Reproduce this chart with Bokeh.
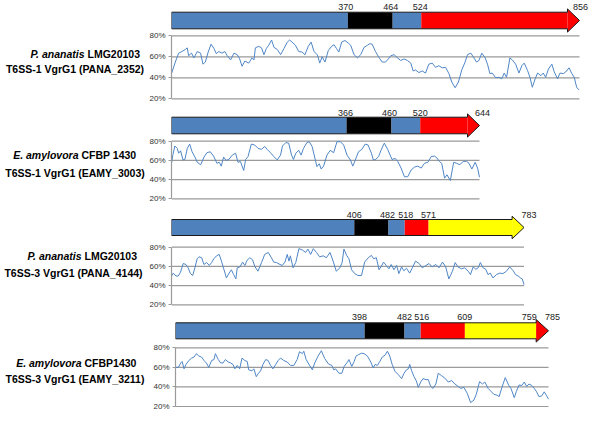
from bokeh.plotting import figure
from bokeh.layouts import column, row
from bokeh.models import Range1d, FixedTicker, PrintfTickFormatter
from bokeh.core.properties import value
from bokeh.embed import file_html
from bokeh.resources import INLINE

# ---------------- data ----------------
TICKS = [20, 40, 60, 80]

P1_SPECIES, P1_STRAIN, P1_GENE = "P. ananatis", "LMG20103", "T6SS-1 VgrG1 (PANA_2352)"
P1_LEN = 856
P1_BOUNDS = [0, 370, 464, 524, 856]
P1_DOMAINS = ["blue", "black", "blue", "red"]
P1_POS = [0, 8, 15, 22, 29, 33, 36, 42, 47, 54, 61, 66, 71, 77, 83, 89, 94, 99, 106, 112,
          117, 124, 131, 138, 143, 148, 154, 162, 169, 173, 176, 183, 189, 194, 199, 204, 210, 215, 222, 229,
          236, 243, 248, 253, 260, 267, 274, 280, 287, 293, 299, 306, 311, 316, 322, 329, 336, 341, 346, 351,
          357, 364, 371, 376, 383, 390, 397, 404, 411, 416, 421, 428, 435, 442, 449, 455, 460, 467, 474, 481,
          488, 495, 502, 507, 512, 519, 526, 533, 540, 547, 554, 561, 568, 575, 582, 588, 595, 602, 609, 616,
          621, 628, 633, 640, 645, 651, 658, 663, 668, 673, 680, 687, 693, 698, 703, 710, 715, 722, 729, 735,
          740, 747, 752, 757, 763, 768, 775, 780, 785, 791, 798, 803, 810, 815, 822, 827, 834, 840, 845, 850, 855]
P1_VAL = [44, 55, 63.5, 65, 67, 68.5, 61, 63.5, 59, 65, 63.5, 53, 55, 64.5, 72, 68, 63, 65, 63.5, 65,
          61, 57, 63.5, 62, 58, 51, 56, 54, 59, 57, 68.5, 70, 68.5, 62, 68, 71, 76, 69, 67, 62,
          68, 74, 76, 74, 71, 65, 64.5, 62, 70, 74, 65, 62, 54, 60, 55, 66, 70, 71.5, 68, 64.5,
          74, 75.5, 73, 71, 62, 59, 62, 69, 71, 72.5, 72, 65, 59.5, 55, 55, 58, 61, 62, 59, 56.5,
          58, 56.5, 54, 46.5, 47.5, 45, 46.5, 44.5, 53, 54, 50, 51.5, 49.5, 50, 44, 36, 30.5, 36, 47.5, 55,
          62, 63.5, 60, 55, 56.5, 63.5, 59, 53, 44, 44.5, 40, 40.5, 39, 44.5, 40.5, 59, 57, 53, 44.5, 51.5,
          54, 47, 40.5, 31, 39, 44.5, 42, 44.5, 40.5, 48.5, 53, 45.5, 39, 44.5, 44, 45.5, 49.5, 44, 40.5, 31, 28.5]

P2_SPECIES, P2_STRAIN, P2_GENE = "E. amylovora", "CFBP 1430", "T6SS-1 VgrG1 (EAMY_3003)"
P2_LEN = 644
P2_BOUNDS = [0, 366, 460, 520, 644]
P2_DOMAINS = ["blue", "black", "blue", "red"]
P2_POS = [0, 3, 7, 12, 15, 19, 24, 28, 33, 38, 43, 49, 54, 61, 68, 74, 81, 88, 95, 100,
          104, 109, 114, 120, 127, 134, 139, 144, 151, 155, 160, 167, 174, 181, 188, 195, 200, 207, 214, 221,
          228, 232, 239, 245, 251, 255, 260, 266, 271, 276, 283, 288, 294, 301, 304, 309, 313, 318, 325, 332,
          339, 346, 353, 360, 367, 374, 379, 384, 391, 398, 405, 411, 418, 422, 427, 433, 438, 445, 452, 461,
          468, 473, 480, 487, 494, 501, 508, 515, 522, 529, 536, 543, 550, 555, 560, 565, 571, 576, 583, 590,
          596, 603, 610, 617, 622, 628, 635, 640, 644]
P2_VAL = [57, 66, 75, 72.5, 67.5, 70, 60.5, 61, 72.5, 77, 69, 63.5, 58, 55.5, 63.5, 68, 69, 64.5, 57, 58,
          54, 63.5, 60, 61, 65.5, 67.5, 58, 59, 49.5, 61, 64, 77, 76, 72.5, 71.5, 74.5, 71.5, 68, 64, 60.5,
          65.5, 75, 78.5, 78, 65.5, 61, 67.5, 70.5, 65.5, 72.5, 78.5, 79.5, 74.5, 60, 53.5, 56.5, 51, 54, 65.5, 70.5,
          68, 79.5, 79.5, 76, 65.5, 60.5, 54, 60, 69, 71.5, 77, 76, 67.5, 60.5, 61, 64, 70.5, 78, 71.5, 61,
          62, 59, 52, 43, 43, 50, 53, 54, 52, 57, 58, 64, 64.5, 62.5, 59, 57, 41.5, 45, 39, 58,
          57, 55.5, 59, 59, 57, 51, 58, 52, 42.5]

P3_SPECIES, P3_STRAIN, P3_GENE = "P. ananatis", "LMG20103", "T6SS-3 VgrG1 (PANA_4144)"
P3_LEN = 783
P3_BOUNDS = [0, 406, 482, 518, 571, 783]
P3_DOMAINS = ["blue", "black", "blue", "red", "yellow"]
P3_POS = [0, 4, 10, 15, 20, 26, 32, 37, 42, 47, 52, 57, 61, 67, 72, 78, 84, 89, 94, 100,
          106, 111, 116, 122, 128, 133, 138, 143, 146, 152, 158, 163, 168, 174, 180, 185, 192, 200, 207, 215,
          222, 227, 233, 241, 246, 252, 257, 261, 264, 270, 276, 283, 291, 298, 303, 309, 315, 322, 329, 337,
          344, 352, 359, 366, 374, 379, 383, 389, 394, 400, 407, 414, 422, 429, 437, 444, 449, 455, 461, 466,
          471, 477, 483, 488, 494, 500, 505, 511, 516, 522, 529, 535, 542, 550, 557, 565, 572, 579, 587, 594,
          602, 609, 616, 624, 630, 636, 644, 651, 659, 664, 670, 676, 681, 686, 692, 698, 703, 708, 714, 722,
          729, 736, 744, 751, 759, 764, 770, 775, 779, 783]
P3_VAL = [50, 53, 50, 50, 54, 63, 62, 58.5, 52.5, 50.5, 58.5, 68, 70, 69, 62, 64, 61, 64, 68, 71,
          72.5, 65.5, 57.5, 48, 53, 56.5, 51.5, 47, 58.5, 59.5, 64.5, 61, 66.5, 69, 67, 60, 55, 64, 72.5, 74.5,
          69, 64.5, 64, 62, 61, 64.5, 72.5, 65.5, 71, 58.5, 64, 78.5, 77, 74.5, 78, 72.5, 78.5, 74.5, 70, 71,
          69, 74.5, 65.5, 55, 58.5, 64, 78, 71.5, 68, 56.5, 52.5, 50.5, 50.5, 64.5, 69, 71.5, 68, 69, 56.5, 60,
          64.5, 61, 57.5, 62, 56.5, 61, 52.5, 59.5, 55.5, 58, 53, 58.5, 65.5, 63, 58.5, 61, 63, 59.5, 62, 58.5,
          64.5, 59.5, 47, 55, 64, 59.5, 57.5, 58.5, 55, 51.5, 59.5, 57, 58.5, 64, 58.5, 57, 51.5, 53, 48, 51.5,
          53, 52.5, 55, 59.5, 55.5, 51.5, 50, 48, 47, 41]

P4_SPECIES, P4_STRAIN, P4_GENE = "E. amylovora", "CFBP1430", "T6SS-3 VgrG1 (EAMY_3211)"
P4_LEN = 785
P4_BOUNDS = [0, 398, 482, 516, 609, 759, 785]
P4_DOMAINS = ["blue", "black", "blue", "red", "yellow", "red"]
P4_POS = [0, 6, 11, 14, 18, 22, 28, 34, 39, 44, 49, 55, 60, 65, 70, 76, 81, 84, 90, 95,
          100, 105, 111, 116, 121, 125, 130, 135, 140, 146, 151, 154, 161, 165, 170, 174, 179, 184, 190, 195,
          200, 205, 211, 216, 221, 228, 235, 242, 249, 256, 261, 267, 270, 275, 281, 288, 293, 300, 307, 314,
          322, 329, 333, 337, 344, 350, 355, 362, 365, 371, 376, 380, 385, 392, 397, 404, 411, 416, 420, 425,
          430, 435, 441, 446, 451, 456, 462, 469, 476, 481, 486, 490, 493, 497, 502, 507, 511, 516, 521, 527,
          532, 537, 542, 548, 553, 560, 567, 574, 581, 588, 595, 600, 607, 614, 621, 628, 633, 640, 646, 651,
          658, 663, 670, 677, 681, 687, 694, 701, 706, 713, 717, 723, 729, 734, 739, 744, 750, 755, 760, 765,
          771, 776, 781, 785]
P4_VAL = [60, 60, 64.5, 66, 58.5, 63, 67, 69.5, 70.5, 74, 71.5, 70.5, 67, 64.5, 60, 67, 68, 74, 68, 64.5,
          64.5, 68, 65.5, 64.5, 63, 58.5, 62, 58.5, 69.5, 67, 66, 57.5, 56.5, 58.5, 50.5, 53.5, 56.5, 63, 68, 67,
          62, 58.5, 63, 67, 69.5, 67, 65.5, 62, 62, 68, 76, 74, 76.5, 68, 63, 57.5, 64.5, 71.5, 77, 69,
          63.5, 62, 57.5, 58.5, 54, 54, 61, 65.5, 68, 61, 66, 71.5, 73, 74.5, 74, 71.5, 65.5, 59.5, 63, 62,
          66, 70.5, 72.5, 76.5, 71.5, 63, 56, 52.5, 48.5, 54, 57.5, 58.5, 63, 56.5, 50.5, 46, 39.5, 45, 48.5, 47.5,
          47.5, 40.5, 38.5, 43, 54, 51.5, 49, 45, 46.5, 43, 40.5, 38.5, 39.5, 33.5, 24, 26.5, 32.5, 45.5, 43, 45,
          38.5, 36, 32.5, 31.5, 30, 39.5, 49.5, 42, 38.5, 29, 35, 42, 41.5, 45, 40.5, 43, 41.5, 38.5, 35, 30,
          31, 35, 31, 27.5]

# ---------------- style ----------------
COLORS = {"blue": "#4f81bd", "black": "#000000", "red": "#ff0000", "yellow": "#ffff00"}
LINE_C = "#4f86c6"
GRID_C = "#9a9a9a"
OUT_C = "#1a1a1a"
FONT = "Liberation Sans"
LEFT, RIGHT, TW = 0, 600, 146
HEAD_PX, HEAD_EXTRA = 12, 3.3

STYLES = [
    dict(H=105, axis_x=171, end_x=579, y80=35.3, y20=98.3, bar_top=11.7, bar_bot=28.3, num=6,
         l1=53, l2=68, split=84, c2=74.5, num_dx=[-2, -2, -1, 1]),
    dict(H=103, axis_x=171, end_x=479, y80=35.7, y20=93.3, bar_top=11.7, bar_bot=28.3, num=7.7,
         l1=49, l2=67, split=78, c2=74.5, num_dx=[-1, -2, 0, 3]),
    dict(H=102, axis_x=168, end_x=523, y80=38.7, y20=96.3, bar_top=11, bar_bot=27, num=6,
         l1=47, l2=64, split=81, c2=73, num_dx=[0, -1, 1, 0, 5]),
    dict(H=114, axis_x=175, end_x=548, y80=37.3, y20=96, bar_top=12.3, bar_bot=28.3, num=6,
         l1=52, l2=68, split=81, c2=74.5, num_dx=[-5, 0, 1, 0, -7, 4]),
]

PANELS = [
    (P1_SPECIES, P1_STRAIN, P1_GENE, P1_LEN, P1_BOUNDS, P1_DOMAINS, P1_POS, P1_VAL),
    (P2_SPECIES, P2_STRAIN, P2_GENE, P2_LEN, P2_BOUNDS, P2_DOMAINS, P2_POS, P2_VAL),
    (P3_SPECIES, P3_STRAIN, P3_GENE, P3_LEN, P3_BOUNDS, P3_DOMAINS, P3_POS, P3_VAL),
    (P4_SPECIES, P4_STRAIN, P4_GENE, P4_LEN, P4_BOUNDS, P4_DOMAINS, P4_POS, P4_VAL),
]


def make_label_fig(species, strain, gene, sty):
    H = sty["H"]
    t = figure(width=TW, height=H, x_range=Range1d(LEFT, LEFT + TW), y_range=Range1d(H, 0),
               output_backend="svg", toolbar_location=None,
               x_axis_location=None, y_axis_location=None,
               min_border_left=0, min_border_right=0, min_border_top=0, min_border_bottom=0)
    t.outline_line_color = None
    t.xgrid.visible = False
    t.ygrid.visible = False
    common = dict(text_font=value(FONT), text_font_size="10.5px", text_color="#000000",
                  text_baseline="middle")
    t.text(x=[sty["split"]], y=[sty["l1"]], text=[species], text_align="right",
           text_font_style="bold italic", **common)
    t.text(x=[sty["split"] + 3], y=[sty["l1"]], text=[strain], text_align="left",
           text_font_style="bold", **common)
    t.text(x=[sty["c2"]], y=[sty["l2"]], text=[gene], text_align="center",
           text_font_style="bold", **common)
    return t


def make_plot_fig(length, bounds, domains, pos, vals, sty):
    H = sty["H"]
    y80, y20 = sty["y80"], sty["y20"]
    ppp = (y20 - y80) / (TICKS[-1] - TICKS[0])

    def v(px):
        return TICKS[-1] - (px - y80) / ppp

    ax, ex = sty["axis_x"], sty["end_x"]
    s = (ex - ax) / length
    x_end = (RIGHT - ax) / s
    fig_w = RIGHT - (LEFT + TW)
    p = figure(width=fig_w, height=H, x_range=Range1d(0, x_end), y_range=Range1d(v(H), v(0)),
               output_backend="svg", toolbar_location=None, x_axis_location=None,
               min_border_left=ax - (LEFT + TW), min_border_right=0,
               min_border_top=0, min_border_bottom=0)
    p.outline_line_color = None
    p.xgrid.visible = False
    p.ygrid.visible = False

    yax = p.yaxis[0]
    yax.ticker = FixedTicker(ticks=TICKS)
    yax.formatter = PrintfTickFormatter(format="%d%%")
    yax.bounds = (TICKS[0], TICKS[-1])
    yax.axis_line_color = GRID_C
    yax.axis_line_width = 1.2
    yax.major_tick_line_color = GRID_C
    yax.major_tick_out = 3
    yax.major_tick_in = 0
    yax.minor_tick_line_color = None
    yax.major_label_text_font = FONT
    yax.major_label_text_font_size = "8px"
    yax.major_label_text_color = "#333333"
    yax.major_label_standoff = 3

    # horizontal guide lines spanning the sequence
    p.segment(x0=[0] * len(TICKS), x1=[length] * len(TICKS), y0=TICKS, y1=TICKS,
              line_color=GRID_C, line_width=1.2)

    # profile line
    p.line(pos, vals, line_color=LINE_C, line_width=1)

    # domain bar with arrow head
    bt, bb = v(sty["bar_top"]), v(sty["bar_bot"])
    mid = (bt + bb) / 2
    ht, hbt = v(sty["bar_top"] - HEAD_EXTRA), v(sty["bar_bot"] + HEAD_EXTRA)
    head_res = HEAD_PX / s
    last_start = bounds[-2]
    hb = last_start if (length - last_start) <= 1.5 * head_res else length - head_res
    lefts, rights, cols = [], [], []
    for a, b, d in zip(bounds[:-1], bounds[1:], domains):
        r = min(b, hb)
        if r > a:
            lefts.append(a)
            rights.append(r)
            cols.append(COLORS[d])
    p.quad(left=lefts, right=rights, top=bt, bottom=bb, fill_color=cols, line_color=None)
    p.patch([hb, length, hb], [ht, mid, hbt], fill_color=COLORS[domains[-1]], line_color=None)
    p.patch([0, hb, hb, length, hb, hb, 0], [bt, bt, ht, mid, hbt, bb, bb],
            fill_color=None, line_color=OUT_C, line_width=1)

    # boundary numbers
    nums = bounds[1:]
    p.text(x=nums, y=[v(sty["num"])] * len(nums), text=[str(n) for n in nums],
           x_offset=sty["num_dx"], text_align="center", text_baseline="middle",
           text_font=value(FONT), text_font_size="9px", text_color="#222222")
    return p


rows = []
for (species, strain, gene, length, bounds, domains, pos, vals), sty in zip(PANELS, STYLES):
    rows.append(row(make_label_fig(species, strain, gene, sty),
                    make_plot_fig(length, bounds, domains, pos, vals, sty)))

layout = column(*rows)
open("out.html", "w").write(file_html(layout, INLINE))
